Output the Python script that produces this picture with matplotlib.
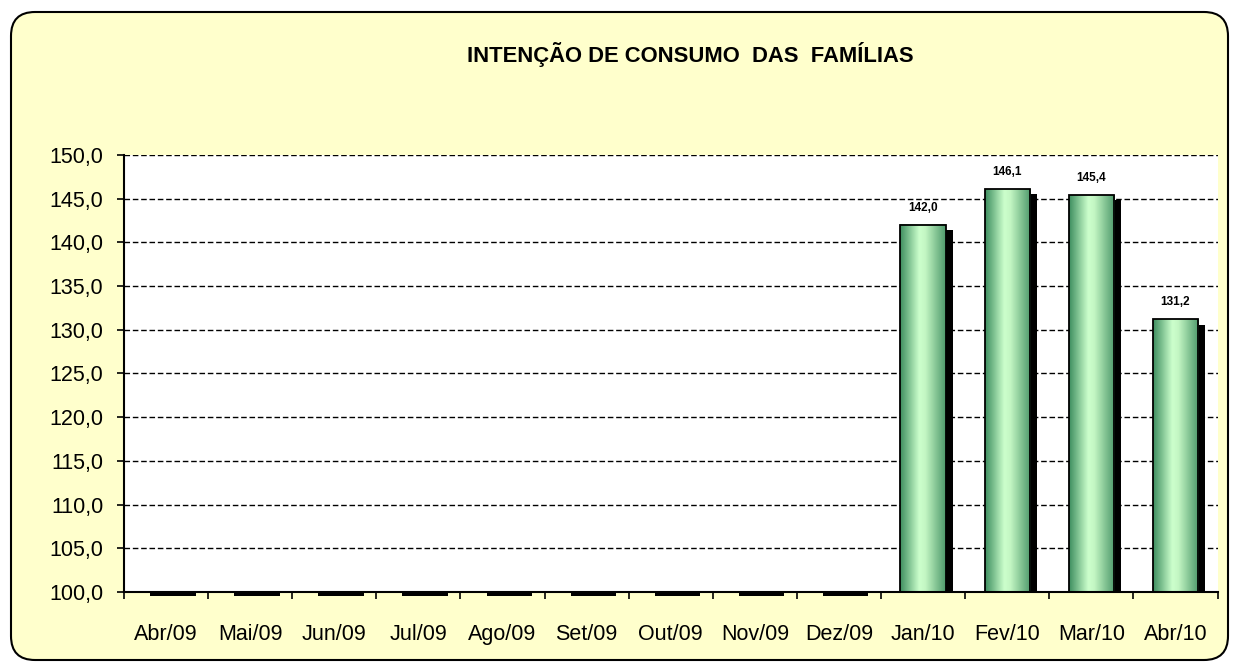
import numpy as np
import matplotlib.pyplot as plt
from matplotlib.patches import Rectangle, FancyBboxPatch
from matplotlib.colors import LinearSegmentedColormap

plt.rcParams['font.family'] = ['Liberation Sans', 'DejaVu Sans']

meses = ['Abr/09', 'Mai/09', 'Jun/09', 'Jul/09', 'Ago/09', 'Set/09', 'Out/09',
         'Nov/09', 'Dez/09', 'Jan/10', 'Fev/10', 'Mar/10', 'Abr/10']
icf = [None, None, None, None, None, None, None, None, None, 142.0, 146.1, 145.4, 131.2]
yticks = [100, 105, 110, 115, 120, 125, 130, 135, 140, 145, 150]

titulo = 'INTENÇÃO DE CONSUMO  DAS  FAMÍLIAS'
fundo = '#ffffcc'

# gradient for the bars (left dark -> light -> dark)
verde = LinearSegmentedColormap.from_list(
    'verde', [(0.0, '#3f8f60'), (0.42, '#ccffcc'), (0.55, '#c4f7c4'), (1.0, '#4f9a6c')])
grad = np.linspace(0, 1, 64).reshape(1, -1)

W, H = 1239, 670
fig = plt.figure(figsize=(W / 100, H / 100), dpi=100)
fig.patch.set_facecolor('white')

# background frame, drawn in pixel units
bg = fig.add_axes([0, 0, 1, 1], zorder=-1)
bg.set_xlim(0, W)
bg.set_ylim(0, H)
bg.axis('off')
bg.add_patch(FancyBboxPatch((11, 10), W - 22, H - 22,
                            boxstyle='round,pad=0,rounding_size=24',
                            facecolor=fundo, edgecolor='black', linewidth=1.5))

ax = fig.add_axes([0.1001, 0.1164, 0.8826, 0.6523])
ax.set_facecolor('white')

ymin, ymax = 100, 150
largura = 0.54
dx = 0.08   # shadow offset, in categories
dy = 0.6    # shadow offset, in values

x = np.arange(len(meses))
for i, v in zip(x, icf):
    if v is None:
        # empty months only show the little shadow line at the base
        ax.add_patch(Rectangle((i - largura / 2 + dx, ymin - 0.4), largura, 0.4,
                               facecolor='black', edgecolor='none', clip_on=False, zorder=3))
        continue
    ax.add_patch(Rectangle((i - largura / 2 + dx, ymin), largura, v - ymin - dy,
                           facecolor='black', edgecolor='none', zorder=3))
    ax.imshow(grad, cmap=verde, aspect='auto', zorder=4,
              extent=(i - largura / 2, i + largura / 2, ymin, v))
    ax.add_patch(Rectangle((i - largura / 2, ymin), largura, v - ymin,
                           facecolor='none', edgecolor='black', linewidth=1.3, zorder=5))
    ax.text(i, v + 1.3, f'{v:.1f}'.replace('.', ','), ha='center', va='bottom',
            fontsize=8.5, fontweight='bold', zorder=6)

ax.set_xlim(-0.5, len(meses) - 0.5)
ax.set_ylim(ymin, ymax)
ax.set_yticks(yticks)
ax.set_yticklabels([f'{t:.1f}'.replace('.', ',') for t in yticks], fontsize=15.5)
ax.set_xticks(x)
ax.set_xticklabels(meses, fontsize=15.5)
ax.set_xticks(np.arange(-0.5, len(meses)), minor=True)
ax.tick_params(axis='x', which='major', length=0, pad=23)
ax.tick_params(axis='x', which='minor', length=5, direction='out', width=1.2)
ax.tick_params(axis='y', length=5, direction='out', width=1.2, pad=10)

ax.yaxis.grid(True, linestyle=(0, (4, 2)), color='black', linewidth=1)
ax.set_axisbelow(True)
for s in ['top', 'right']:
    ax.spines[s].set_visible(False)
ax.spines['left'].set_linewidth(1.5)
ax.spines['bottom'].set_linewidth(1.5)
ax.spines['bottom'].set_zorder(7)

fig.text(0.557, 0.918, titulo, ha='center', va='center',
         fontsize=15.8, fontweight='bold')

fig.savefig('out.png', dpi=100, facecolor='white')
